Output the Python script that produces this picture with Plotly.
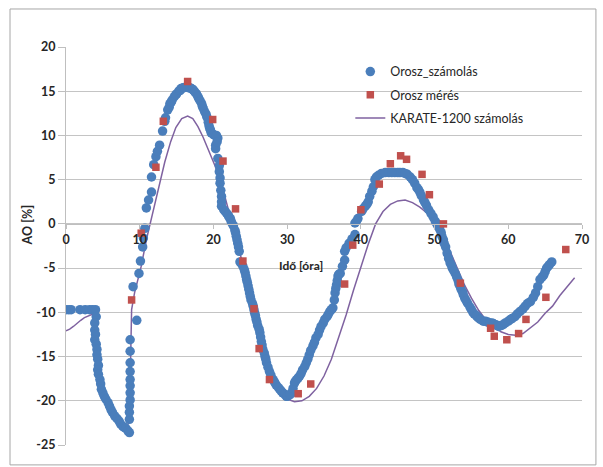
import plotly.graph_objects as go

# ---- data ----
calc_x = [0, 0.4, 0.7, 1.9, 2.6, 3.2, 3.6, 4.0,
          4.1, 3.9, 3.9, 4.0, 3.9, 4.1, 4.2, 4.2, 4.3, 4.4, 4.3, 4.4, 4.6, 4.7, 4.8, 5.0, 5.2, 5.4,
          5.7, 5.9, 6.1, 6.3, 6.6, 6.9, 7.2, 7.4, 7.7, 7.9, 8.1, 8.4, 8.6,
          8.6, 8.6, 8.6, 8.7, 8.7, 8.7, 8.7, 8.7, 8.7, 8.7, 8.7, 9.6, 9.1, 9.9, 10.4, 10.7, 10.9,
          11.6, 11.6, 11.9, 12.7, 13.1, 13.8, 14.1, 14.4, 14.7, 15.0, 15.3, 15.6, 15.9, 16.3, 16.6,
          17.0, 17.3, 17.7, 18.0, 18.4, 18.6, 18.8, 19.1, 19.3, 19.5, 19.7, 20.2, 20.6, 20.3, 20.3,
          20.6, 20.8, 20.8, 20.9, 20.9, 21.0, 21.1, 21.1, 21.1, 21.4, 21.8, 22.1, 22.4, 22.7, 22.9,
          23.1, 23.3, 23.5, 23.6, 24.0, 24.3, 24.5, 24.7, 24.9, 25.1, 25.4, 25.6, 25.8, 26.0, 26.3,
          26.5, 26.7, 27.0, 27.2, 27.6, 28.1, 28.5, 29.0, 29.4, 29.9, 30.2, 30.6, 31.0, 31.3, 31.7,
          32.1, 32.6, 33.0, 33.5, 33.9, 34.4, 34.9, 35.4, 35.8, 36.2, 36.5, 36.7, 36.9, 37.2, 37.8,
          37.8, 38.4, 39.2, 39.2, 39.6, 40.1, 40.6, 41.0, 41.2, 41.5, 41.7, 41.9, 42.4, 42.8, 43.3,
          44.6, 45.0, 45.3, 46.3, 46.7, 47.3, 47.6, 48.0, 48.5, 48.9, 49.2, 49.8, 50.1, 50.5, 50.9,
          51.2, 51.5, 51.7, 52.1, 52.4, 52.8, 53.2, 53.5, 53.8, 54.1, 54.5, 55.0, 55.4, 55.9, 56.6,
          57.2, 57.8, 58.3, 58.7, 59.3, 60.0, 60.5, 60.9, 61.6, 62.3, 63.0, 63.7, 64.3, 64.8, 65.2,
          65.6, 65.9,
          # extra points read in the dense parts of the band
          10.1, 10.5, 11.2, 12.2, 12.4, 13.4, 13.5, 14.0, 14.3, 14.9, 15.5, 16.0, 16.8, 17.2,
          17.5, 17.9, 18.2, 18.5, 19.0, 19.4, 19.6, 20.0, 20.4, 20.5,
          21.6, 22.0, 22.3, 22.5, 23.0, 23.2, 23.4, 23.8, 24.2, 24.4, 24.6, 24.8, 25.0, 25.3, 25.5,
          25.7, 25.9, 26.2, 26.4, 26.6, 26.9, 27.1, 27.4, 27.8, 28.3, 28.8, 29.2, 29.7, 30.0, 30.4,
          30.8, 31.1, 31.5, 31.9, 32.4, 32.8, 33.2, 33.7, 34.2, 34.6, 35.1, 35.6, 36.0, 36.4, 36.6,
          36.8, 37.0, 37.5, 38.0, 38.8, 39.4,
          40.3, 40.8, 42.1, 43.8, 44.2, 45.7, 46.0, 47.0, 47.8, 48.2, 48.7, 49.5, 50.3, 50.7, 51.0,
          51.3, 51.9, 52.3, 52.6, 53.0, 53.3, 53.6, 53.9, 54.3, 54.8, 55.2, 55.7, 56.2, 56.9, 57.5,
          58.0, 58.5, 59.0, 59.6, 60.3, 61.2, 62.0, 62.6, 63.4, 64.0, 64.6, 65.0, 65.4]
calc_y = [-9.7, -9.7, -9.7, -9.7, -9.7, -9.7, -9.7, -9.7,
          -10.5, -11.2, -12.0, -12.5, -13.1, -13.6, -14.2, -14.8, -15.3, -16.0, -16.5, -17.0, -17.6,
          -18.1, -18.7, -19.1, -19.5, -19.8,
          -20.2, -20.6, -21.0, -21.3, -21.7, -22.0, -22.3, -22.6, -22.9, -23.0, -23.1, -23.4, -23.6,
          -22.1, -21.3, -20.6, -19.9, -19.1, -18.3, -17.6, -16.7, -15.7, -14.4, -13.1, -10.9, -7.1,
          -5.6, -2.6, -0.5, 1.8,
          3.6, 5.3, 6.7, 8.9, 10.5, 12.9, 13.6, 14.0, 14.4, 14.7, 15.0, 15.3, 15.4, 15.5, 15.4,
          15.3, 15.1, 14.7, 14.2, 13.6, 13.1, 12.7, 12.1, 11.5, 10.8, 10.3, 10.0, 9.7, 8.9, 8.5,
          7.4, 6.6, 5.9, 5.2, 4.6, 3.8, 3.1, 2.5, 2.0, 1.6, 1.2, 0.8, 0.3, -0.2, -0.7,
          -1.4, -2.2, -3.1, -4.3, -4.8, -5.5, -6.3, -7.0, -7.8, -8.6, -9.3, -10.1, -10.8, -11.5, -12.3,
          -13.3, -14.2, -15.0, -15.7, -16.7, -17.6, -18.2, -18.7, -19.1, -19.5, -19.4, -19.1, -18.0,
          -17.6, -17.2,
          -16.5, -15.7, -14.8, -13.8, -12.9, -12.0, -11.2, -10.5, -9.9, -9.5, -7.8, -6.9, -5.9, -5.6,
          -4.1,
          -3.1, -2.2, -1.2, 0.1, 0.6, 1.4, 2.0, 2.5, 3.1, 3.7, 4.2, 5.0, 5.5, 5.7, 5.8,
          5.8, 5.8, 5.8, 5.6, 5.3, 4.6, 4.1, 3.6, 2.7, 2.1, 1.6, 0.8, 0.3, -0.3, -1.0,
          -1.8, -2.6, -3.3, -4.4, -5.0, -5.6, -6.4, -7.1, -7.7, -8.4, -9.0, -9.7, -10.2, -10.6, -11.0,
          -11.1, -11.2, -11.4, -11.6, -11.4, -11.0, -10.7, -10.5, -9.9, -9.3, -8.8, -7.8, -6.3, -5.8,
          -5.0,
          -4.6, -4.3,
          -4.2, -1.6, 2.7, 7.6, 8.2, 11.6, 12.0, 13.2, 13.8, 14.6, 15.1, 15.4, 15.4, 15.2,
          14.9, 14.4, 13.9, 13.3, 12.4, 11.1, 10.6, 10.1, 10.0, 9.3,
          1.4, 1.0, 0.6, 0.1, -1.0, -1.8, -2.6, -4.5, -5.2, -5.9, -6.6, -7.4, -8.2, -9.0, -9.7,
          -10.4, -11.1, -11.9, -12.8, -13.7, -14.6, -15.3, -16.2, -17.1, -17.9, -18.5, -18.9, -19.3,
          -19.5, -19.3,
          -18.6, -17.8, -17.4, -16.9, -16.1, -15.3, -14.3, -13.4, -12.5, -11.6, -10.8, -10.2, -9.7,
          -8.6, -7.3,
          -6.4, -5.7, -4.8, -2.7, -1.7, 0.3,
          1.7, 2.2, 5.3, 5.8, 5.8, 5.8, 5.7, 5.0, 3.9, 3.2, 2.4, 1.2, 0.0, -0.6, -1.4,
          -2.2, -3.9, -4.7, -5.3, -6.0, -6.8, -7.4, -8.0, -8.7, -9.4, -10.0, -10.4, -10.8, -11.0,
          -11.2,
          -11.3, -11.5, -11.5, -11.2, -10.8, -10.2, -9.6, -9.0, -8.3, -7.1, -6.0, -5.4, -4.8]

meas_x = [8.9, 10.2, 12.2, 13.2, 16.5, 19.9, 21.3, 23.0, 24.0, 25.5, 26.2, 27.6, 31.5, 33.2,
          37.8, 38.9, 40.0, 42.5, 44.0, 45.4, 46.2, 48.3, 49.3, 51.2, 53.5, 57.6, 58.1, 59.8,
          61.4, 62.4, 65.1, 67.8]
meas_y = [-8.6, -1.05, 6.4, 11.6, 16.1, 11.8, 7.1, 1.7, -4.2, -9.6, -14.1, -17.6, -19.2, -18.1,
          -6.8, -2.4, 1.6, 4.5, 6.8, 7.7, 7.3, 5.6, 3.3, 0.0, -6.7, -11.8, -12.7, -13.1,
          -12.4, -10.8, -8.3, -2.9]

karate_x = [0, 0.5, 1.0, 1.5, 2.0, 2.5, 3.0, 3.5, 3.9, 4.2, 4.3, 4.4, 4.6, 5.0, 5.7, 6.5, 7.5,
            8.3, 8.6, 8.7, 8.8, 8.85, 8.9, 9.3, 10.2, 10.9, 11.8, 12.6, 13.4, 14.2, 14.9, 15.7,
            16.5, 17.2, 17.9, 18.6, 19.4, 20.2, 21.0, 22.0, 23.0, 24.0, 25.0, 26.0, 27.0, 28.0,
            29.0, 30.0, 31.0, 32.0, 33.0, 34.0, 35.0, 36.0, 37.0, 38.0, 39.0, 40.0, 41.0, 42.0,
            43.0, 44.0, 45.0, 46.0, 47.0, 48.0, 49.0, 50.0, 51.0, 52.0, 53.0, 54.0, 55.0, 56.0,
            57.0, 58.0, 59.0, 60.0, 61.0, 62.0, 63.0, 64.0, 65.0, 66.0, 67.0, 68.0, 69.0]
karate_y = [-12.1, -11.9, -11.6, -11.2, -10.9, -10.6, -10.4, -10.2, -10.1, -11.0, -13.0, -15.0,
            -17.0, -19.0, -20.3, -21.5, -22.5, -23.0, -22.0, -18.0, -14.0, -11.0, -9.7, -7.8,
            -4.8, -1.8, 1.5, 4.4, 7.0, 9.3, 10.9, 11.9, 12.2, 11.9, 11.0, 9.8, 8.3, 6.6, 4.8,
            1.8, -1.4, -4.6, -8.0, -11.6, -15.0, -17.7, -19.1, -19.8, -20.1, -20.0, -19.5, -18.6,
            -17.2, -15.3, -12.9, -10.3, -7.5, -4.8, -2.3, 0.0, 1.4, 2.2, 2.6, 2.7, 2.4, 1.9, 1.2,
            -0.1, -1.2, -2.9, -4.9, -6.8, -8.4, -9.8, -10.9, -11.6, -12.2, -12.5, -12.6, -12.4,
            -11.7, -11.1, -10.1, -9.3, -8.1, -7.1, -6.1]

x_ticks = [0, 10, 20, 30, 40, 50, 60, 70]
y_ticks = [20, 15, 10, 5, 0, -5, -10, -15, -20, -25]

names = ["Orosz_számolás", "Orosz mérés", "KARATE-1200 számolás"]
x_title = "Idő [óra]"
y_title = "AO [%]"

FONT = "Lato"
BLUE = "#4A7EBB"
RED = "#C0504D"
PURPLE = "#7F62A0"
TXT = "#262626"

fig = go.Figure()
# line first so that the markers sit on top of it
fig.add_trace(go.Scatter(x=karate_x, y=karate_y, mode="lines", name=names[2],
                         line=dict(color=PURPLE, width=1.5), legendrank=3,
                         legendgroup="c"))
fig.add_trace(go.Scatter(x=calc_x, y=calc_y, mode="markers", name=names[0],
                         marker=dict(symbol="circle", size=9.5, color=BLUE),
                         legendrank=1, legendgroup="a"))
fig.add_trace(go.Scatter(x=meas_x, y=meas_y, mode="markers", name=names[1],
                         marker=dict(symbol="square", size=7.5, color=RED),
                         legendrank=2, legendgroup="b"))

fig.update_layout(
    width=603, height=467,
    margin=dict(l=66, r=21, t=47, b=22),
    paper_bgcolor="white", plot_bgcolor="white",
    font=dict(family=FONT, size=12, color=TXT),
    showlegend=True,
    legend=dict(x=0.551, y=0.975, xanchor="left", yanchor="top",
                bgcolor="rgba(0,0,0,0)", font=dict(family=FONT, size=12.5, color=TXT),
                tracegroupgap=4, traceorder="grouped"),
    xaxis=dict(range=[0, 70], tickvals=x_ticks, ticktext=[str(v) for v in x_ticks],
               showgrid=False, zeroline=False, showline=True, linecolor="#BFBFBF",
               linewidth=1, ticks="outside", ticklen=4, tickcolor="#BFBFBF",
               anchor="free", position=25 / 45,
               tickfont=dict(family=FONT, size=12.5, color=TXT, weight="bold")),
    yaxis=dict(range=[-25, 20], tickvals=y_ticks, ticktext=[str(v) for v in y_ticks],
               showgrid=True, gridcolor="#C4C4C4", gridwidth=1, zeroline=False,
               showline=True, linecolor="#BFBFBF", linewidth=1,
               ticks="outside", ticklen=7, tickcolor="#BFBFBF",
               tickfont=dict(family=FONT, size=12.5, color=TXT, weight="bold")),
    annotations=[
        dict(text=x_title, xref="paper", yref="paper", x=0.4554, y=0.452,
             showarrow=False, font=dict(family=FONT, size=12, color=TXT, weight="bold")),
        dict(text=y_title, xref="paper", yref="paper", x=-0.093, y=0.553, textangle=-90,
             showarrow=False, font=dict(family=FONT, size=12.5, color=TXT, weight="bold")),
    ],
    shapes=[dict(type="rect", xref="paper", yref="paper",
                 x0=-0.1085, x1=1.027, y0=-0.05, y1=1.0955,
                 line=dict(color="#A6A6A6", width=1), fillcolor="rgba(0,0,0,0)", layer="below")],
)

fig.write_html("out.html")
